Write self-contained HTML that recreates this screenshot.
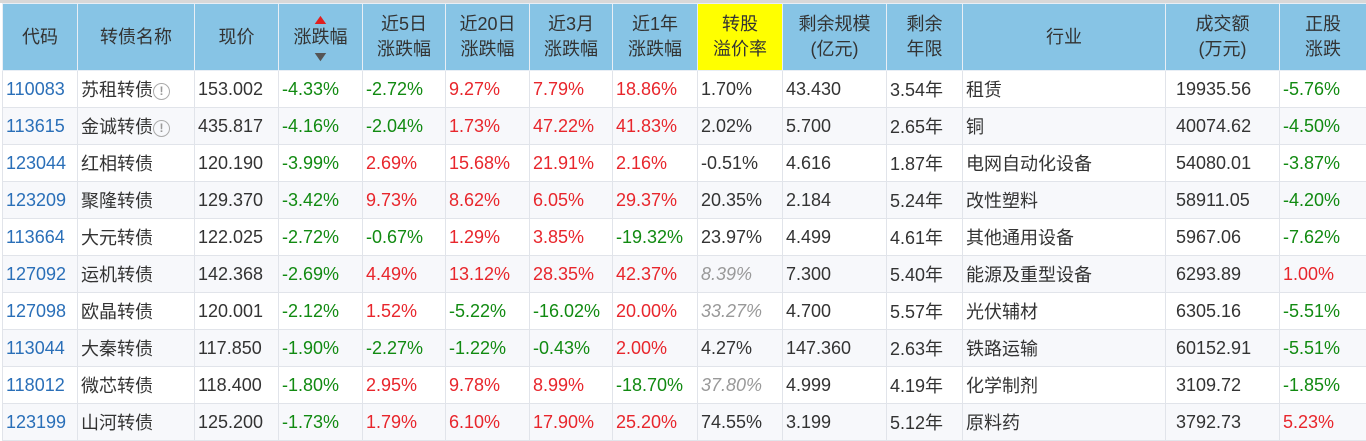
<!DOCTYPE html>
<html><head><meta charset="utf-8"><style>
body{margin:0;width:1366px;height:440px;overflow:hidden;background:#fff;font-family:"Liberation Sans","Noto Sans CJK SC",sans-serif;}
table{position:absolute;left:2px;top:3px;border-collapse:collapse;table-layout:fixed;width:1364px;}
.top{position:absolute;left:0;top:0;width:1366px;height:3px;background:#d8d8d8}
th{background:#87c4e5;color:#333;font-weight:normal;font-size:18px;line-height:25px;height:66px;padding:0;border:1px solid #e8eef5;text-align:center}
td{height:36px;padding:0 0 0 3px;font-size:18px;color:#333;border:1px solid #e1e4ea;white-space:nowrap;overflow:hidden}
tr:nth-child(odd) td{background:#f7f8fb}
tr:nth-child(even) td{background:#fff}
.c{color:#2a6fb8}.g{color:#118a11}.r{color:#e8262c}.i{color:#999;font-style:italic}
.y{background:#ffff00!important}
.q{display:inline-block;width:15px;height:15px;border:1.5px solid #aaa;border-radius:50%;font-size:12px;line-height:15px;text-align:center;color:#999;vertical-align:1px;font-weight:bold}
</style></head><body><div class="top"></div>
<table>
<colgroup><col style="width:75px"><col style="width:117px"><col style="width:84px"><col style="width:84px"><col style="width:83px"><col style="width:84px"><col style="width:83px"><col style="width:85px"><col style="width:85px"><col style="width:104px"><col style="width:76px"><col style="width:203px"><col style="width:114px"><col style="width:87px"></colgroup>
<tr><th>代码</th><th>转债名称</th><th>现价</th><th><div style="line-height:12px;color:#e02020;font-size:14px;transform:scaleX(1.4)">▲</div><div>涨跌幅</div><div style="line-height:12px;color:#555;font-size:14px;transform:scaleX(1.4)">▼</div></th><th>近5日<br>涨跌幅</th><th>近20日<br>涨跌幅</th><th>近3月<br>涨跌幅</th><th>近1年<br>涨跌幅</th><th class="y">转股<br>溢价率</th><th>剩余规模<br>(亿元)</th><th>剩余<br>年限</th><th>行业</th><th>成交额<br>(万元)</th><th>正股<br>涨跌</th></tr>
<tr><td class="c">110083</td><td>苏租转债<span class="q">!</span></td><td>153.002</td><td class="g">-4.33%</td><td class="g">-2.72%</td><td class="r">9.27%</td><td class="r">7.79%</td><td class="r">18.86%</td><td>1.70%</td><td>43.430</td><td>3.54年</td><td>租赁</td><td style="padding-left:10px">19935.56</td><td class="g">-5.76%</td></tr>
<tr><td class="c">113615</td><td>金诚转债<span class="q">!</span></td><td>435.817</td><td class="g">-4.16%</td><td class="g">-2.04%</td><td class="r">1.73%</td><td class="r">47.22%</td><td class="r">41.83%</td><td>2.02%</td><td>5.700</td><td>2.65年</td><td>铜</td><td style="padding-left:10px">40074.62</td><td class="g">-4.50%</td></tr>
<tr><td class="c">123044</td><td>红相转债</td><td>120.190</td><td class="g">-3.99%</td><td class="r">2.69%</td><td class="r">15.68%</td><td class="r">21.91%</td><td class="r">2.16%</td><td>-0.51%</td><td>4.616</td><td>1.87年</td><td>电网自动化设备</td><td style="padding-left:10px">54080.01</td><td class="g">-3.87%</td></tr>
<tr><td class="c">123209</td><td>聚隆转债</td><td>129.370</td><td class="g">-3.42%</td><td class="r">9.73%</td><td class="r">8.62%</td><td class="r">6.05%</td><td class="r">29.37%</td><td>20.35%</td><td>2.184</td><td>5.24年</td><td>改性塑料</td><td style="padding-left:10px">58911.05</td><td class="g">-4.20%</td></tr>
<tr><td class="c">113664</td><td>大元转债</td><td>122.025</td><td class="g">-2.72%</td><td class="g">-0.67%</td><td class="r">1.29%</td><td class="r">3.85%</td><td class="g">-19.32%</td><td>23.97%</td><td>4.499</td><td>4.61年</td><td>其他通用设备</td><td style="padding-left:10px">5967.06</td><td class="g">-7.62%</td></tr>
<tr><td class="c">127092</td><td>运机转债</td><td>142.368</td><td class="g">-2.69%</td><td class="r">4.49%</td><td class="r">13.12%</td><td class="r">28.35%</td><td class="r">42.37%</td><td class="i">8.39%</td><td>7.300</td><td>5.40年</td><td>能源及重型设备</td><td style="padding-left:10px">6293.89</td><td class="r">1.00%</td></tr>
<tr><td class="c">127098</td><td>欧晶转债</td><td>120.001</td><td class="g">-2.12%</td><td class="r">1.52%</td><td class="g">-5.22%</td><td class="g">-16.02%</td><td class="r">20.00%</td><td class="i">33.27%</td><td>4.700</td><td>5.57年</td><td>光伏辅材</td><td style="padding-left:10px">6305.16</td><td class="g">-5.51%</td></tr>
<tr><td class="c">113044</td><td>大秦转债</td><td>117.850</td><td class="g">-1.90%</td><td class="g">-2.27%</td><td class="g">-1.22%</td><td class="g">-0.43%</td><td class="r">2.00%</td><td>4.27%</td><td>147.360</td><td>2.63年</td><td>铁路运输</td><td style="padding-left:10px">60152.91</td><td class="g">-5.51%</td></tr>
<tr><td class="c">118012</td><td>微芯转债</td><td>118.400</td><td class="g">-1.80%</td><td class="r">2.95%</td><td class="r">9.78%</td><td class="r">8.99%</td><td class="g">-18.70%</td><td class="i">37.80%</td><td>4.999</td><td>4.19年</td><td>化学制剂</td><td style="padding-left:10px">3109.72</td><td class="g">-1.85%</td></tr>
<tr><td class="c">123199</td><td>山河转债</td><td>125.200</td><td class="g">-1.73%</td><td class="r">1.79%</td><td class="r">6.10%</td><td class="r">17.90%</td><td class="r">25.20%</td><td>74.55%</td><td>3.199</td><td>5.12年</td><td>原料药</td><td style="padding-left:10px">3792.73</td><td class="r">5.23%</td></tr>
</table></body></html>
